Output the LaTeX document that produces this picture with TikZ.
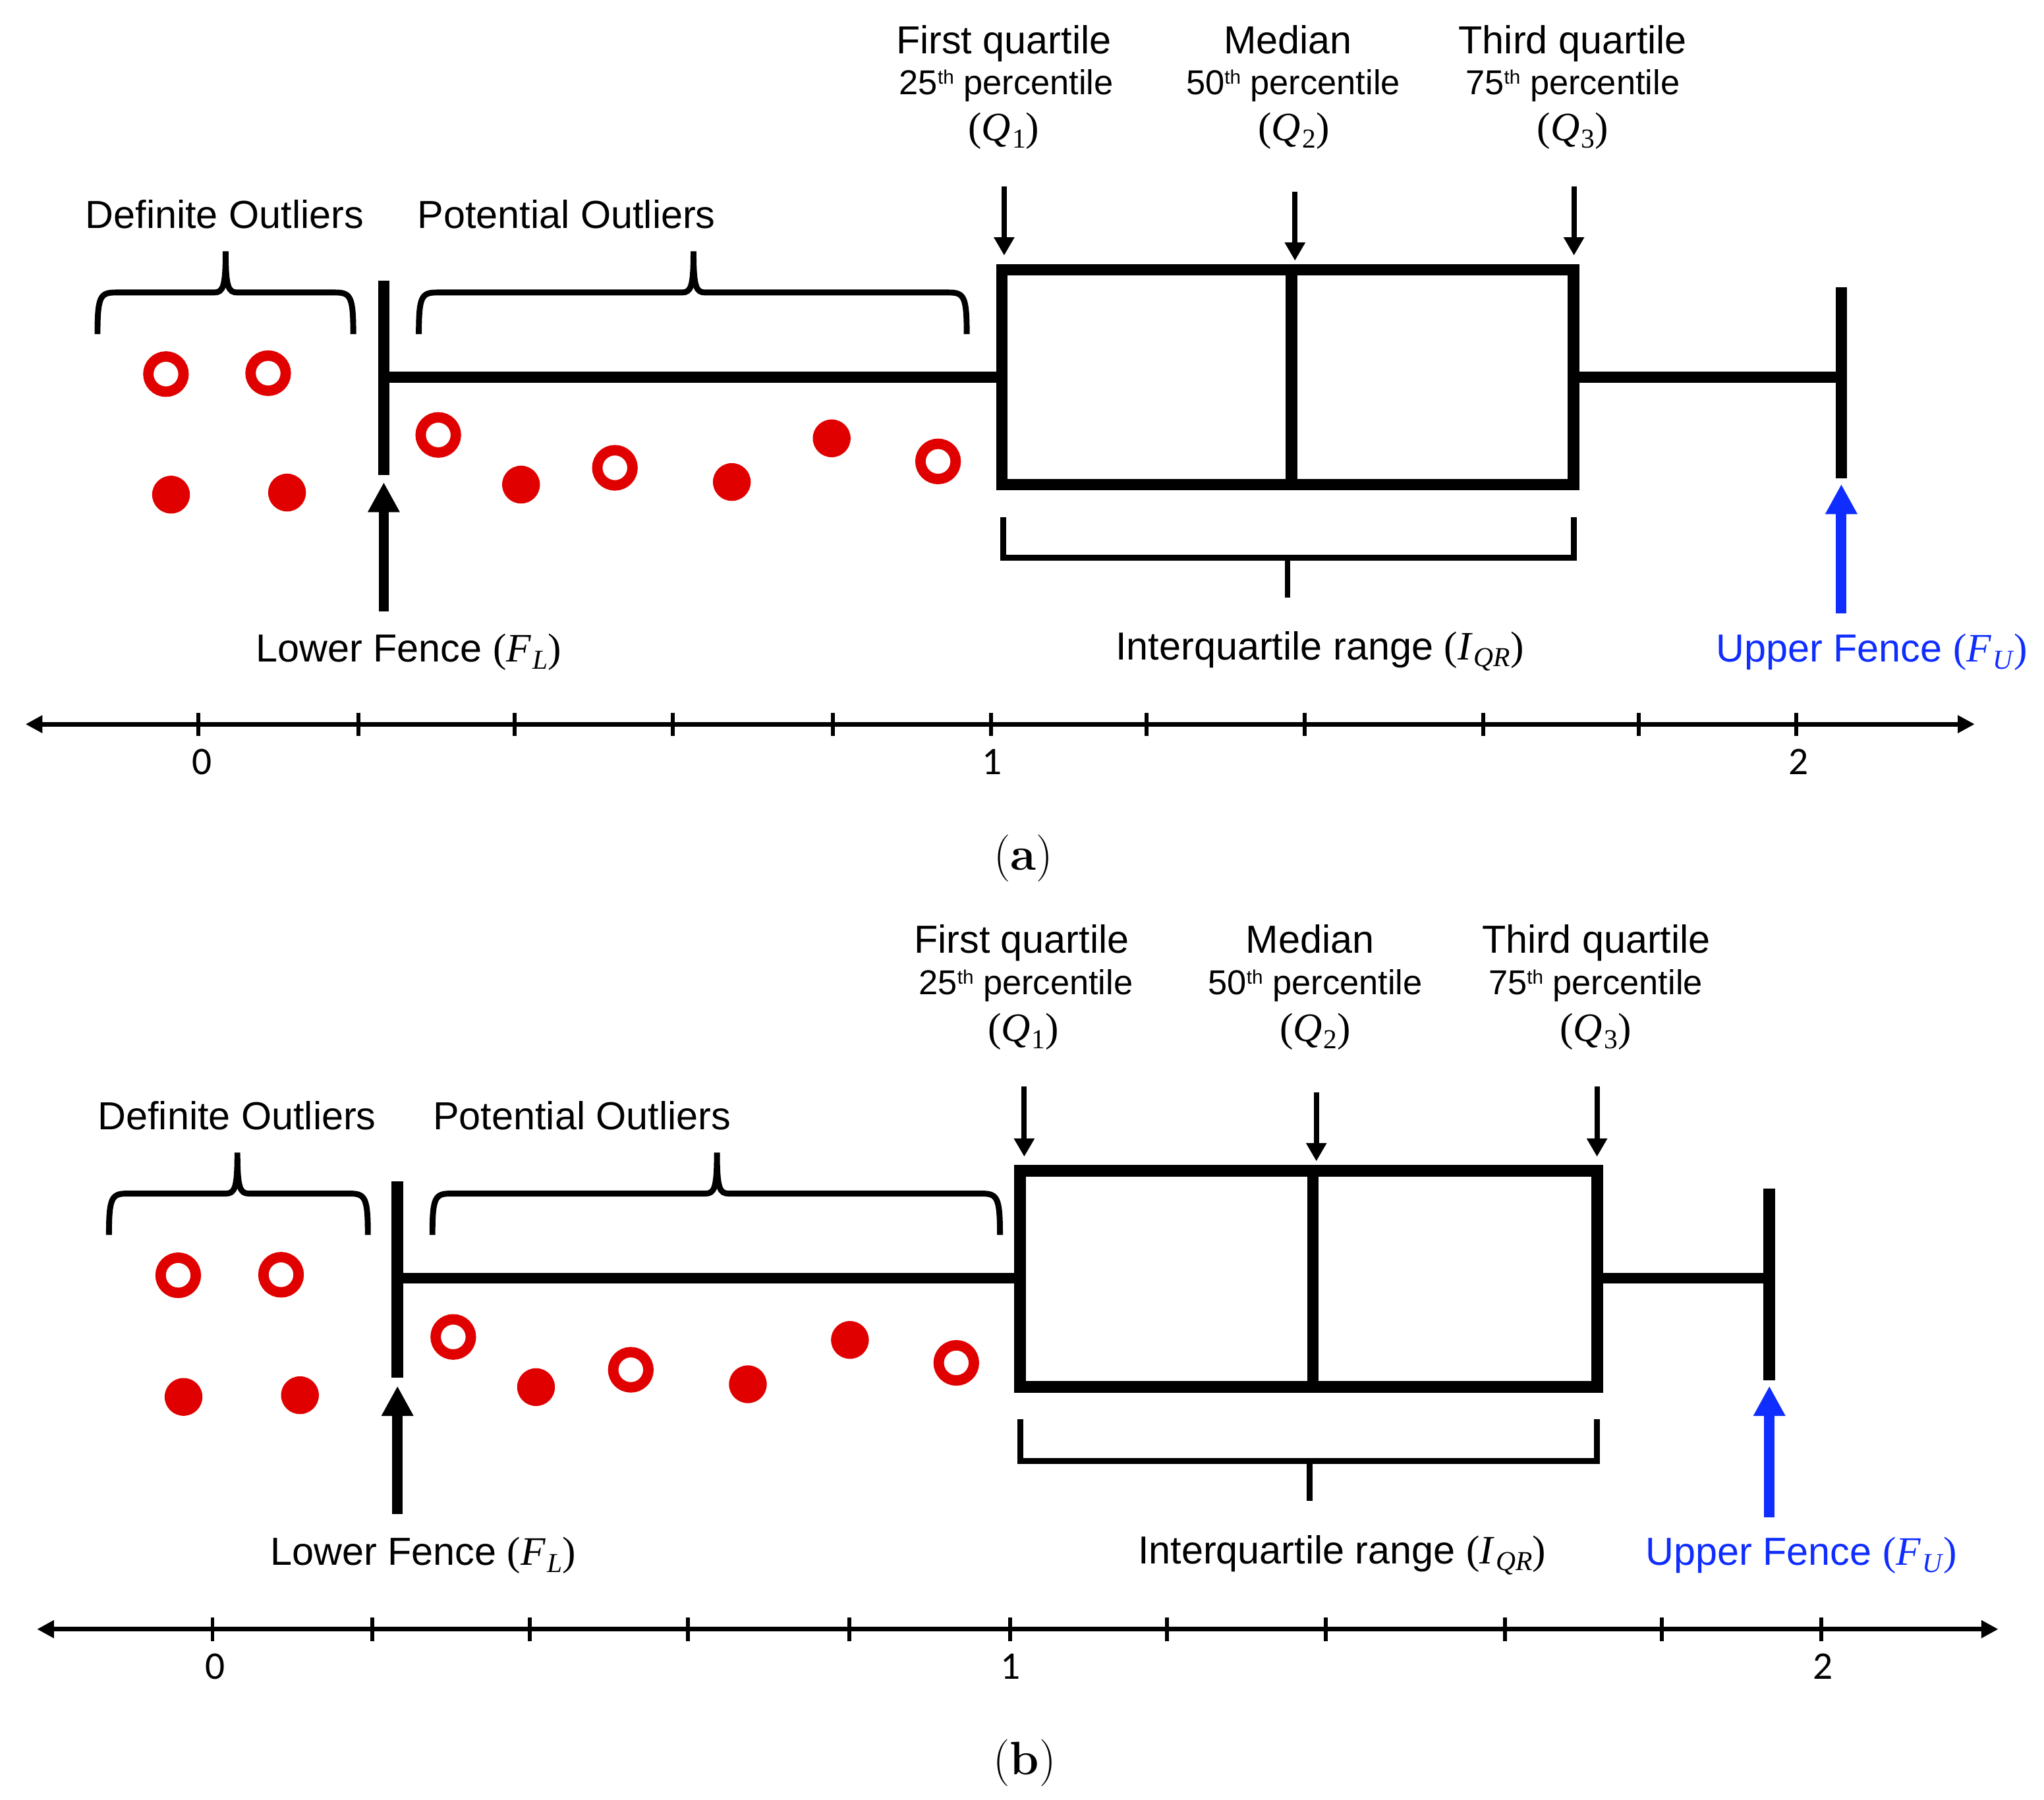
\documentclass[tikz,border=0pt]{standalone}
\usepackage{fontspec}
\newfontfamily\arialf{Liberation Sans}
\newfontfamily\calf{Carlito}
\newfontfamily\mfont{Liberation Serif}
\usetikzlibrary{arrows.meta}
\definecolor{ptred}{RGB}{224,0,0}
\definecolor{fenceblue}{RGB}{15,45,255}
\tikzset{
  lab/.style={font=\arialf\fontsize{30}{36}\selectfont, anchor=base, inner sep=0pt},
  plab/.style={font=\arialf\fontsize{26.5}{32}\selectfont, anchor=base, inner sep=0pt},
  axlab/.style={font=\calf\fontsize{30}{34}\selectfont, anchor=base, inner sep=0pt},
  sublab/.style={font=\fontsize{36}{40}\selectfont, anchor=base, inner sep=0pt},
  boxline/.style={line width=9pt, line join=miter, line cap=rect},
  whisk/.style={line width=8.5pt},
  fencebar/.style={line width=9pt},
  brk/.style={line width=4.5pt},
  qarrow/.style={line width=4pt, -{Triangle[length=14pt,width=15pt]}},
  fencearrow/.style={line width=8pt, -{Triangle[length=23pt,width=23pt]}},
  axisline/.style={line width=3.5pt, {Triangle[length=13pt,width=13pt]}-{Triangle[length=13pt,width=13pt]}},
  tickmark/.style={line width=3pt},
  hol/.style={circle, draw=ptred, line width=8pt, fill=white, minimum size=27pt, inner sep=0pt},
  fil/.style={circle, fill=ptred, minimum size=29pt, inner sep=0pt},
}
\newcommand\mybrace[6]{%
  \draw[brk] (#1,#5) .. controls (#1,#4+3) and (#1+2,#4) .. (#1+14,#4) -- (#3-9,#4)
    .. controls (#3-2,#4) and (#3,#4-4) .. (#3,#6)
    .. controls (#3,#4-4) and (#3+2,#4) .. (#3+9,#4) -- (#2-14,#4)
    .. controls (#2-2,#4) and (#2,#4+3) .. (#2,#5);}
\newcommand\pctl[1]{#1\raisebox{8.3pt}{\fontsize{15}{15}\selectfont th} percentile}
\newcommand\mth[2]{{\mfont\fontsize{31}{36}\selectfont(\textit{#1}\kern1pt\raisebox{-5.5pt}{\fontsize{21}{21}\selectfont #2})}}
\begin{document}
\begin{tikzpicture}[x=1pt,y=-1pt]
\useasboundingbox (0,0) rectangle (1568,1380.5);

% ================= (a) =================
\node[lab] (aq1a) at (770,41) {First quartile};
\node[plab] (aq1b) at (772,72.6) {\pctl{25}};
\node[lab] (aq1c) at (770,108) {\mth{Q}{1}};
\node[lab] (aq2a) at (988,41) {Median};
\node[plab] (aq2b) at (992,72.6) {\pctl{50}};
\node[lab] (aq2c) at (992.5,108) {\mth{Q}{2}};
\node[lab] (aq3a) at (1206.5,41) {Third quartile};
\node[plab] (aq3b) at (1206.5,72.6) {\pctl{75}};
\node[lab] (aq3c) at (1206.5,108) {\mth{Q}{3}};
\coordinate (aq1s) at (770.3,143); \coordinate (aq1t) at (770.3,196);
\coordinate (aq2s) at (993.4,147); \coordinate (aq2t) at (993.4,200);
\coordinate (aq3s) at (1207.4,143); \coordinate (aq3t) at (1207.4,196);
\draw[qarrow] (aq1s) -- (aq1t);
\draw[qarrow] (aq2s) -- (aq2t);
\draw[qarrow] (aq3s) -- (aq3t);
\coordinate (abl) at (768.6,207); \coordinate (abr) at (1207,371.8);
\draw[boxline] (abl) rectangle (abr);
\coordinate (amt) at (990.9,207); \coordinate (amb) at (990.9,371.8);
\draw[boxline] (amt) -- (amb);
\coordinate (alft) at (294.4,215.4); \coordinate (alfb) at (294.4,364.3);
\draw[fencebar] (alft) -- (alfb);
\coordinate (awl) at (294.4,289.5); \coordinate (awbl) at (768.6,289.5);
\draw[whisk] (awl) -- (awbl);
\coordinate (awbr) at (1207,289.5); \coordinate (awr) at (1412.5,289.5);
\draw[whisk] (awbr) -- (awr);
\coordinate (auft) at (1412.5,220.2); \coordinate (aufb) at (1412.5,366.9);
\draw[fencebar] (auft) -- (aufb);
\coordinate (alas) at (294.4,469); \coordinate (alat) at (294.4,370);
\draw[fencearrow] (alas) -- (alat);
\coordinate (auas) at (1412.5,470.7); \coordinate (auat) at (1412.5,371.4);
\draw[fencearrow, fenceblue] (auas) -- (auat);
\coordinate (ai1) at (769.6,396.6); \coordinate (ai2) at (769.6,427.9);
\coordinate (ai3) at (1207.4,427.9); \coordinate (ai4) at (1207.4,396.6);
\draw[brk] (ai1) -- (ai2) -- (ai3) -- (ai4);
\coordinate (ai5) at (987.7,427.9); \coordinate (ai6) at (987.7,458.5);
\draw[brk] (ai5) -- (ai6);
\mybrace{74.8}{271}{173.1}{224.4}{256.3}{192.8}
\mybrace{321.3}{741.6}{532}{224.4}{256.3}{192.8}
\node[lab] (adef) at (172.3,175) {Definite Outliers};
\node[lab] (apot) at (434.6,175) {Potential Outliers};
\node[lab] (alfl) at (313.5,508) {Lower Fence \mth{F}{\textit{L}}};
\node[lab] (aiqr) at (1012.5,506) {Interquartile range \mth{I}{\textit{QR}}};
\node[lab, text=fenceblue] (aufl) at (1436,508) {Upper Fence \mth{F}{\textit{U}}};
\node[hol] (ah1) at (127.3,287) {};
\node[hol] (ah2) at (205.7,286.3) {};
\node[hol] (ah3) at (336.2,333.7) {};
\node[hol] (ah4) at (471.7,358.9) {};
\node[hol] (ah5) at (719.6,354) {};
\node[fil] (af1) at (131.2,379.5) {};
\node[fil] (af2) at (220.2,377.9) {};
\node[fil] (af3) at (399.7,371.8) {};
\node[fil] (af4) at (561.4,369.8) {};
\node[fil] (af5) at (638,336.3) {};
\coordinate (aaxl) at (19.6,555.6); \coordinate (aaxr) at (1514.8,555.6);
\draw[axisline] (aaxl) -- (aaxr);
\foreach \t in {152,275,395,516,639,760,879.7,1001,1138,1257,1378}
  \draw[tickmark] (\t,547) -- (\t,564.5);
\node[axlab] (a0) at (154.8,594) {0};
\node[axlab] (a1) at (761,594) {1};
\node[axlab] (a2) at (1379.7,594) {2};
\node[sublab] (acap) at (785,667.5) {(\textbf{a})};

% ================= (b) =================
\node[lab] (bq1a) at (783.7,731) {First quartile};
\node[plab] (bq1b) at (787,763) {\pctl{25}};
\node[lab] (bq1c) at (785,799) {\mth{Q}{1}};
\node[lab] (bq2a) at (1004.9,731) {Median};
\node[plab] (bq2b) at (1009,763) {\pctl{50}};
\node[lab] (bq2c) at (1009,799) {\mth{Q}{2}};
\node[lab] (bq3a) at (1224.6,731) {Third quartile};
\node[plab] (bq3b) at (1224,763) {\pctl{75}};
\node[lab] (bq3c) at (1224,799) {\mth{Q}{3}};
\coordinate (bq1s) at (785.7,833.4); \coordinate (bq1t) at (785.7,887.4);
\coordinate (bq2s) at (1009.8,837.9); \coordinate (bq2t) at (1009.8,890.9);
\coordinate (bq3s) at (1225.1,833.4); \coordinate (bq3t) at (1225.1,887.4);
\draw[qarrow] (bq1s) -- (bq1t);
\draw[qarrow] (bq2s) -- (bq2t);
\draw[qarrow] (bq3s) -- (bq3t);
\coordinate (bbl) at (782.6,898.4); \coordinate (bbr) at (1225.1,1064.2);
\draw[boxline] (bbl) rectangle (bbr);
\coordinate (bmt) at (1007.2,898.4); \coordinate (bmb) at (1007.2,1064.2);
\draw[boxline] (bmt) -- (bmb);
\coordinate (blft) at (304.9,906.4); \coordinate (blfb) at (304.9,1056.7);
\draw[fencebar] (blft) -- (blfb);
\coordinate (bwl) at (304.9,980.6); \coordinate (bwbl) at (782.6,980.6);
\draw[whisk] (bwl) -- (bwbl);
\coordinate (bwbr) at (1225.1,980.6); \coordinate (bwr) at (1357.3,980.6);
\draw[whisk] (bwbr) -- (bwr);
\coordinate (buft) at (1357.3,912.1); \coordinate (bufb) at (1357.3,1058.9);
\draw[fencebar] (buft) -- (bufb);
\coordinate (blas) at (304.9,1161.4); \coordinate (blat) at (304.9,1063.3);
\draw[fencearrow] (blas) -- (blat);
\coordinate (buas) at (1357.3,1164.1); \coordinate (buat) at (1357.3,1063.3);
\draw[fencearrow, fenceblue] (buas) -- (buat);
\coordinate (bi1) at (782.6,1089); \coordinate (bi2) at (782.6,1120.8);
\coordinate (bi3) at (1225.1,1120.8); \coordinate (bi4) at (1225.1,1089);
\draw[brk] (bi1) -- (bi2) -- (bi3) -- (bi4);
\coordinate (bi5) at (1004.6,1120.8); \coordinate (bi6) at (1004.6,1151.7);
\draw[brk] (bi5) -- (bi6);
\mybrace{83.6}{282.2}{182.1}{915.7}{947.5}{884.3}
\mybrace{331.7}{767.1}{550}{915.7}{947.5}{884.3}
\node[lab] (bdef) at (181.8,866.6) {Definite Outliers};
\node[lab] (bpot) at (446.5,866.6) {Potential Outliers};
\node[lab] (blfl) at (324.5,1201) {Lower Fence \mth{F}{\textit{L}}};
\node[lab] (biqr) at (1029.5,1199.5) {Interquartile range \mth{I}{\textit{QR}}};
\node[lab, text=fenceblue] (bufl) at (1381.9,1201) {Upper Fence \mth{F}{\textit{U}}};
\node[hol] (bh1) at (136.7,978.4) {};
\node[hol] (bh2) at (215.6,978) {};
\node[hol] (bh3) at (347.7,1025.7) {};
\node[hol] (bh4) at (483.9,1050.9) {};
\node[hol] (bh5) at (733.6,1045.6) {};
\node[fil] (bf1) at (140.8,1071.7) {};
\node[fil] (bf2) at (230.1,1070.4) {};
\node[fil] (bf3) at (411.2,1064.2) {};
\node[fil] (bf4) at (573.7,1062) {};
\node[fil] (bf5) at (652,1028) {};
\coordinate (baxl) at (28.4,1249.9); \coordinate (baxr) at (1532.9,1249.9);
\draw[axisline] (baxl) -- (baxr);
\foreach \t in {163,285.8,406.5,527.8,651.6,774.9,895.1,1017,1154.4,1274.7,1397.1}
  \draw[tickmark] (\t,1241) -- (\t,1259);
\node[axlab] (b0) at (165,1288) {0};
\node[axlab] (b1) at (775.4,1288) {1};
\node[axlab] (b2) at (1398.6,1288) {2};
\node[sublab] (bcap) at (786,1361.5) {(\textbf{b})};
\end{tikzpicture}
\end{document}
